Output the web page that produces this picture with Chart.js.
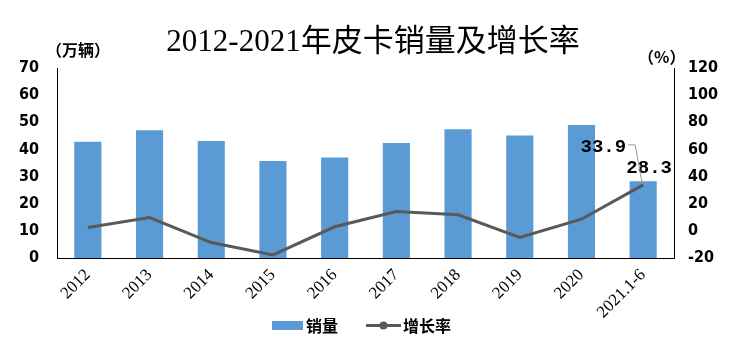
<!DOCTYPE html>
<html><head><meta charset="utf-8">
<script src="https://cdn.jsdelivr.net/npm/chart.js@4.4.1/dist/chart.umd.min.js"></script>
<style>html,body{margin:0;padding:0;background:#fff}#wrap{width:737px;height:355px;position:relative}</style>
</head><body><div id="wrap"><canvas id="c" width="737" height="355"></canvas></div>
<script>
const categories = ['2012','2013','2014','2015','2016','2017','2018','2019','2020','2021.1-6'];
const sales = [42.8, 47.1, 43.1, 35.7, 37.0, 42.4, 47.4, 45.1, 49.0, 28.3];
const growth = [2.5, 9.8, -8.6, -17.7, 3.0, 14.2, 11.8, -4.9, 8.6, 33.9];
const leftTicks = [0, 70, 10];
const rightTicks = [-20, 120, 20];
const titleText = '2012-2021年皮卡销量及增长率';
const seriesNames = ['销量', '增长率'];

const BLUE = '#5B9BD5', GRAY = '#595959';
const CJK = '"Noto Sans CJK SC"';

const decor = {
  id: 'decor',
  afterDraw(chart) {
    const ctx = chart.ctx;
    ctx.save();
    // title
    ctx.fillStyle = '#000';
    ctx.textAlign = 'center'; ctx.textBaseline = 'middle';
    ctx.font = '31px "Liberation Serif", ' + CJK;
    ctx.fillText(titleText, 373, 43);
    // unit labels
    ctx.font = 'bold 16px ' + CJK;
    ctx.textAlign = 'left';
    ctx.fillText('（万辆）', 46, 50);
    ctx.fillText('（%）', 638, 57);
    // data labels
    const bar = chart.getDatasetMeta(0).data[9];
    const pt = chart.getDatasetMeta(1).data[9];
    ctx.font = 'bold 19px "Liberation Mono"';
    ctx.textAlign = 'center';
    ctx.fillText(sales[9].toFixed(1), bar.x + 6, bar.y - 13);
    ctx.textAlign = 'right';
    ctx.fillText(growth[9].toFixed(1), pt.x - 17, pt.y - 38);
    ctx.strokeStyle = '#999'; ctx.lineWidth = 1;
    ctx.beginPath();
    ctx.moveTo(pt.x - 15, pt.y - 40);
    ctx.lineTo(pt.x - 8, pt.y - 40);
    ctx.lineTo(pt.x - 1, pt.y - 2);
    ctx.stroke();
    // legend
    ctx.fillStyle = BLUE;
    ctx.fillRect(272, 321, 31, 9);
    ctx.fillStyle = '#000';
    ctx.font = 'bold 16px ' + CJK;
    ctx.textAlign = 'left'; ctx.textBaseline = 'middle';
    ctx.fillText(seriesNames[0], 306, 326);
    ctx.strokeStyle = GRAY; ctx.lineWidth = 3;
    ctx.beginPath(); ctx.moveTo(366, 325.5); ctx.lineTo(401, 325.5); ctx.stroke();
    ctx.fillStyle = GRAY;
    ctx.beginPath(); ctx.arc(383.5, 325.5, 4, 0, Math.PI * 2); ctx.fill();
    ctx.fillStyle = '#000';
    ctx.fillText(seriesNames[1], 403, 326);
    ctx.restore();
  }
};

new Chart(document.getElementById('c'), {
  data: {
    labels: categories,
    datasets: [
      { type: 'bar', label: seriesNames[0], data: sales, backgroundColor: BLUE, yAxisID: 'y',
        categoryPercentage: 1, barPercentage: 0.44, order: 2 },
      { type: 'line', label: seriesNames[1], data: growth, borderColor: GRAY, borderWidth: 3,
        pointRadius: 0, tension: 0, yAxisID: 'y1', order: 1 }
    ]
  },
  options: {
    responsive: false, animation: false,
    layout: { padding: { top: 68, left: 0, right: 0, bottom: 0 } },
    plugins: { legend: { display: false }, tooltip: { enabled: false }, title: { display: false } },
    scales: {
      x: {
        grid: { display: false, drawTicks: false },
        border: { display: true, color: '#000', width: 1 },
        ticks: { maxRotation: 45, minRotation: 45, padding: 7, color: '#000',
                 font: { family: '"Liberation Serif"', size: 17 } },
        afterFit(s) { s.height = 97; }
      },
      y: {
        position: 'left', min: leftTicks[0], max: leftTicks[1],
        grid: { display: false, drawTicks: false },
        border: { display: true, color: '#000', width: 1 },
        ticks: { stepSize: leftTicks[2], padding: 18, color: '#000',
                 font: { family: '"Liberation Sans Narrow", "DejaVu Sans Condensed"', size: 16, weight: 'bold' } },
        afterFit(s) { s.width = 57; }
      },
      y1: {
        position: 'right', min: rightTicks[0], max: rightTicks[1],
        grid: { display: false, drawTicks: false },
        border: { display: true, color: '#000', width: 1 },
        ticks: { stepSize: rightTicks[2], padding: 14, color: '#000',
                 font: { family: '"Liberation Sans Narrow", "DejaVu Sans Condensed"', size: 16, weight: 'bold' } },
        afterFit(s) { s.width = 63; }
      }
    }
  },
  plugins: [decor]
});
</script></body></html>
